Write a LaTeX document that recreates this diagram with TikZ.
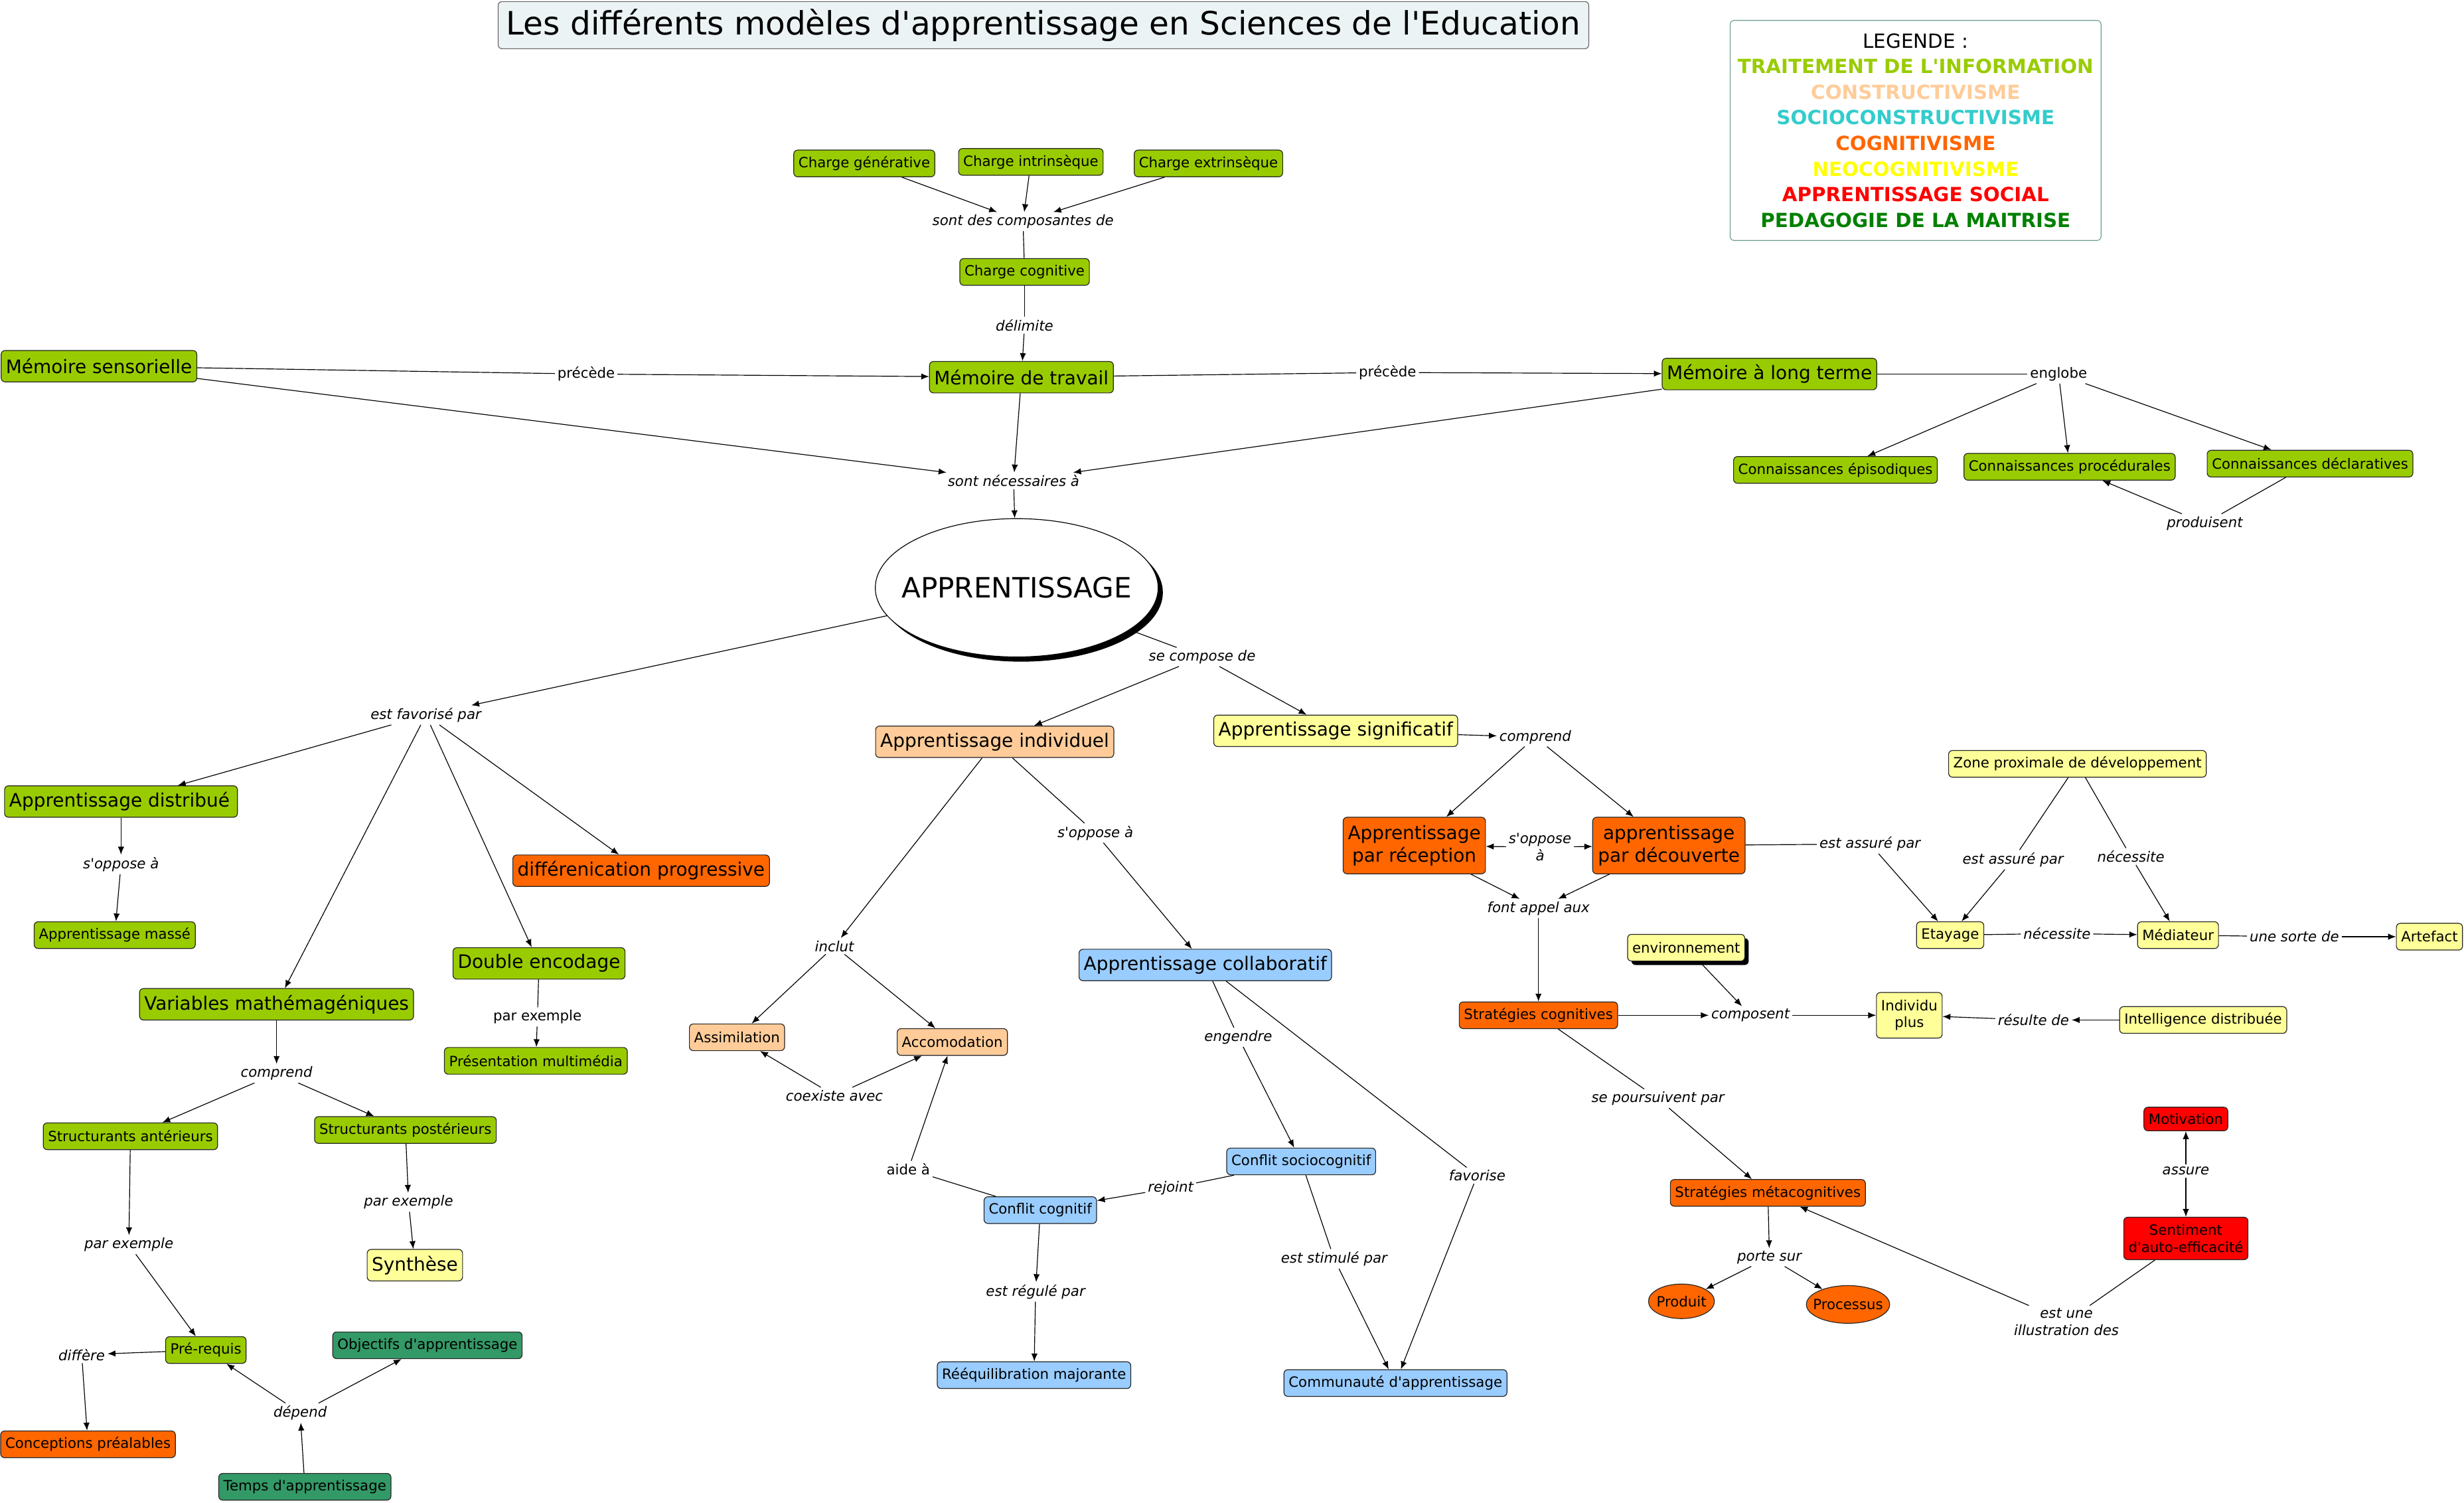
\documentclass[tikz,border=0pt]{standalone}
\usepackage{fontspec}
\setmainfont{DejaVu Sans}[Ligatures=TeXOff]
\usetikzlibrary{arrows.meta,shapes.geometric,shadows}
\definecolor{cgreen}{RGB}{153,204,0}
\definecolor{cdgreen}{RGB}{51,153,102}
\definecolor{corange}{RGB}{255,102,0}
\definecolor{cpeach}{RGB}{255,204,153}
\definecolor{cly}{RGB}{255,255,153}
\definecolor{clb}{RGB}{153,204,255}
\definecolor{cred}{RGB}{255,0,0}
\definecolor{ctitle}{RGB}{235,243,245}
\definecolor{cteal}{RGB}{51,204,204}
\definecolor{cyel}{RGB}{255,255,0}
\definecolor{cmaitr}{RGB}{0,128,0}
\definecolor{clegbord}{RGB}{110,160,150}
\newcommand\mysmall{\fontsize{9}{10.8}\selectfont}
\newcommand\mylarge{\fontsize{11.8}{14.5}\selectfont}
\tikzset{
  box/.style={rounded corners=2.5pt, draw=black!85, line width=0.5pt, inner xsep=3pt, inner ysep=2pt, align=center},
  sm/.style={box, font=\mysmall, minimum height=17pt},
  lg/.style={box, font=\mylarge, minimum height=20pt},
  lab/.style={font=\mysmall\itshape, inner sep=1.5pt, align=center},
  labu/.style={font=\mysmall, inner sep=1.5pt, align=center},
  fg/.style={fill=cgreen}, fdg/.style={fill=cdgreen}, fo/.style={fill=corange},
  fp/.style={fill=cpeach}, fy/.style={fill=cly}, fb/.style={fill=clb}, fr/.style={fill=cred},
  ln/.style={line width=0.5pt, draw=black},
  ar/.style={ln, -{Latex[length=5pt,width=4pt]}},
  oval/.style={ellipse, draw=black!85, line width=0.5pt, fill=corange, font=\mysmall, inner sep=0pt},
}
\begin{document}
\begin{tikzpicture}[x=1pt,y=-1pt]
\useasboundingbox (0,0) rectangle (1568,956);
% title and legend
\node[box, fill=ctitle, draw=black!60, minimum width=694pt, minimum height=30pt, font=\fontsize{20.5}{24}\selectfont] (title) at (664,16) {Les différents modèles d'apprentissage en Sciences de l'Education};
\node[box, draw=clegbord, fill=white, minimum width=236pt, minimum height=140pt, font=\fontsize{12.4}{16.3}\selectfont] (legend) at (1219,83)
 {LEGENDE :\\ \bfseries\color{cgreen}TRAITEMENT DE L'INFORMATION\\ \bfseries\color{cpeach}CONSTRUCTIVISME\\ \bfseries\color{cteal}SOCIOCONSTRUCTIVISME\\ \bfseries\color{corange}COGNITIVISME\\ \bfseries\color{cyel}NEOCOGNITIVISME\\ \bfseries\color{cred}APPRENTISSAGE SOCIAL\\ \bfseries\color{cmaitr}PEDAGOGIE DE LA MAITRISE};
% charge cognitive
\node[sm,fg] (cgen) at (550,104) {Charge générative};
\node[sm,fg] (cint) at (656,103) {Charge intrinsèque};
\node[sm,fg] (cext) at (769,104) {Charge extrinsèque};
\node[lab] (lcomp) at (651,141) {sont des composantes de};
\node[sm,fg] (ccog) at (652,173) {Charge cognitive};
\node[lab] (ldelim) at (652,207) {délimite};
% memoires
\node[lg,fg] (msens) at (63,233) {Mémoire sensorielle};
\node[lg,fg] (mtrav) at (650,240) {Mémoire de travail};
\node[lg,fg] (mlt) at (1126,238) {Mémoire à long terme};
\node[labu] (lprec1) at (373,238) {précède};
\node[labu] (lprec2) at (883,237) {précède};
\node[labu] (lengl) at (1310,238) {englobe};
\node[sm,fg] (cepi) at (1168,299) {Connaissances épisodiques};
\node[sm,fg] (cproc) at (1317,297) {Connaissances procédurales};
\node[sm,fg] (cdecl) at (1470,295) {Connaissances déclaratives};
\node[lab] (lprod) at (1403,333) {produisent};
\node[lab] (lneces) at (645,306) {sont nécessaires à};
% apprentissage
\node[ellipse, draw=black, line width=0.5pt, fill=white, minimum width=180pt, minimum height=88pt, inner sep=0pt, font=\fontsize{17.8}{21}\selectfont, drop shadow={shadow xshift=3pt, shadow yshift=-3pt, fill=black, opacity=1}] (appr) at (647,374) {\makebox[0pt]{APPRENTISSAGE}};
\node[lab] (lcompose) at (765,418) {se compose de};
\node[lab] (lfavor) at (271,455) {est favorisé par};
\node[lg,fp] (aind) at (633,472) {Apprentissage individuel};
\node[lg,fy] (asig) at (850,465) {Apprentissage significatif};
\node[lab] (lcompr1) at (977,469) {comprend};
% left branch
\node[lg,fg] (adist) at (77,510) {Apprentissage distribué\,};
\node[lab] (lopp1) at (77,550) {s'oppose à};
\node[sm,fg] (amasse) at (73,595) {Apprentissage massé};
\node[lg,fo] (dprog) at (408,554) {différenication progressive};
\node[lg,fg] (denc) at (343,613) {Double encodage};
\node[labu] (lpex1) at (342,647) {par exemple};
\node[sm,fg] (pmulti) at (341,675) {Présentation multimédia};
\node[lg,fg] (varm) at (176,639) {Variables mathémagéniques};
\node[lab] (lcompr2) at (176,683) {comprend};
\node[sm,fg] (sant) at (83,723) {Structurants antérieurs};
\node[sm,fg] (spost) at (258,719) {Structurants postérieurs};
\node[lab] (lpex2) at (82,792) {par exemple};
\node[lab] (lpex3) at (260,765) {par exemple};
\node[lg,fy] (synth) at (264,805) {Synthèse};
\node[sm,fg] (prereq) at (131,859) {Pré-requis};
\node[lab] (ldiff) at (52,862) {diffère};
\node[sm,fo] (concep) at (56,919) {Conceptions préalables};
\node[sm,fdg] (objap) at (272,856) {Objectifs d'apprentissage};
\node[lab] (ldep) at (191,899) {dépend};
\node[sm,fdg] (temps) at (194,946) {Temps d'apprentissage};
% individuel / collaboratif
\node[lab] (lincl) at (531,602) {inclut};
\node[sm,fp] (assim) at (469,660) {Assimilation};
\node[sm,fp] (accom) at (606,663) {Accomodation};
\node[lab] (lcoex) at (531,697) {coexiste avec};
\node[lab] (lopp2) at (697,530) {s'oppose à};
\node[lg,fb] (acoll) at (767,614) {Apprentissage collaboratif};
\node[lab] (lengen) at (788,660) {engendre};
\node[lab] (lfavo) at (940,748) {favorise};
\node[sm,fb] (csoc) at (828,739) {Conflit sociocognitif};
\node[lab] (lrej) at (745,756) {rejoint};
\node[sm,fb] (ccogn) at (662,770) {Conflit cognitif};
\node[labu] (laide) at (578,744) {aide à};
\node[lab] (lregul) at (659,822) {est régulé par};
\node[sm,fb] (reeq) at (658,875) {Rééquilibration majorante};
\node[lab] (lstim) at (849,801) {est stimulé par};
\node[sm,fb] (commu) at (888,880) {Communauté d'apprentissage};
% significatif
\node[lg,fo, minimum width=90pt, minimum height=36pt] (arecep) at (900,538) {Apprentissage\\par réception};
\node[lab] (lopp3) at (980,539) {s'oppose\\à};
\node[lg,fo, minimum width=97pt, minimum height=36pt] (adecouv) at (1062,538) {apprentissage\\par découverte};
\node[lab] (lassur1) at (1190,537) {est assuré par};
\node[lab] (lappel) at (979,578) {font appel aux};
\node[sm,fy] (zpd) at (1322,486) {Zone proximale de développement};
\node[lab] (lassur2) at (1281,547) {est assuré par};
\node[lab] (lnec1) at (1356,545) {nécessite};
\node[sm,fy] (etay) at (1241,595) {Etayage};
\node[lab] (lnec2) at (1309,594) {nécessite};
\node[sm,fy] (medi) at (1386,595) {Médiateur};
\node[lab] (lsorte) at (1460,596) {une sorte de};
\node[sm,fy] (artef) at (1546,596) {Artefact};
\node[sm,fy, drop shadow={shadow xshift=2.5pt, shadow yshift=-2.5pt, fill=black, opacity=1}] (envir) at (1073,603) {environnement};
\node[sm,fo] (stcog) at (979,646) {Stratégies cognitives};
\node[lab] (lcompo) at (1114,646) {composent};
\node[sm,fy, minimum height=29pt] (indiv) at (1215,646) {Individu\\plus};
\node[lab] (lresul) at (1294,649) {résulte de};
\node[sm,fy] (intel) at (1402,649) {Intelligence distribuée};
\node[lab] (lpours) at (1055,699) {se poursuivent par};
\node[sm,fo] (stmeta) at (1125,759) {Stratégies métacognitives};
\node[lab] (lporte) at (1126,800) {porte sur};
\node[oval, minimum width=42pt, minimum height=22pt] (produit) at (1070,828) {\makebox[0pt]{Produit}};
\node[oval, minimum width=53pt, minimum height=24pt] (processus) at (1176,830) {\makebox[0pt]{Processus}};
\node[sm,fr, minimum height=15pt] (motiv) at (1391,712) {Motivation};
\node[lab] (lassure) at (1391,745) {assure};
\node[sm,fr, minimum height=27pt] (sentim) at (1391,788) {Sentiment\\d'auto-efficacité};
\node[lab] (lillus) at (1315,841) {est une\\illustration des};
% ---------- connectors ----------
\draw[ar] (cgen) -- (lcomp);
\draw[ar] (cint) -- (lcomp);
\draw[ar] (cext) -- (lcomp);
\draw[ln] (lcomp) -- (ccog);
\draw[ln] (ccog) -- (ldelim);
\draw[ar] (ldelim) -- (mtrav);
\draw[ln] (msens) -- (lprec1);
\draw[ar] (lprec1) -- (mtrav);
\draw[ln] (mtrav) -- (lprec2);
\draw[ar] (lprec2) -- (mlt);
\draw[ar] (msens) -- (lneces);
\draw[ar] (mtrav) -- (lneces);
\draw[ar] (mlt) -- (lneces);
\draw[ar] (lneces) -- (appr);
\draw[ln] (mlt) -- (lengl);
\draw[ar] (lengl) -- (cepi);
\draw[ar] (lengl) -- (cproc);
\draw[ar] (lengl) -- (cdecl);
\draw[ln] (cdecl) -- (lprod);
\draw[ar] (lprod) -- (cproc);
\draw[ar] (appr) -- (lfavor);
\draw[ar] (lfavor) -- (adist);
\draw[ar] (lfavor) -- (varm);
\draw[ar] (lfavor) -- (denc);
\draw[ar] (lfavor) -- (dprog);
\draw[ln] (appr) -- (lcompose);
\draw[ar] (lcompose) -- (aind);
\draw[ar] (lcompose) -- (asig);
\draw[ar] (adist) -- (lopp1);
\draw[ar] (lopp1) -- (amasse);
\draw[ln] (denc) -- (lpex1);
\draw[ar] (lpex1) -- (pmulti);
\draw[ar] (varm) -- (lcompr2);
\draw[ar] (lcompr2) -- (sant);
\draw[ar] (lcompr2) -- (spost);
\draw[ar] (sant) -- (lpex2);
\draw[ar] (lpex2) -- (prereq);
\draw[ar] (spost) -- (lpex3);
\draw[ar] (lpex3) -- (synth);
\draw[ar] (prereq) -- (ldiff);
\draw[ar] (ldiff) -- (concep);
\draw[ar] (temps) -- (ldep);
\draw[ar] (ldep) -- (prereq);
\draw[ar] (ldep) -- (objap);
\draw[ar] (aind) -- (lincl);
\draw[ar] (lincl) -- (assim);
\draw[ar] (lincl) -- (accom);
\draw[ar] (lcoex) -- (assim);
\draw[ar] (lcoex) -- (accom);
\draw[ln] (aind) -- (lopp2);
\draw[ar] (lopp2) -- (acoll);
\draw[ln] (acoll) -- (lengen);
\draw[ar] (lengen) -- (csoc);
\draw[ln] (acoll) -- (lfavo);
\draw[ar] (lfavo) -- (commu);
\draw[ln] (csoc) -- (lrej);
\draw[ar] (lrej) -- (ccogn);
\draw[ln] (ccogn) -- (laide);
\draw[ar] (laide) -- (accom);
\draw[ar] (ccogn) -- (lregul);
\draw[ar] (lregul) -- (reeq);
\draw[ln] (csoc) -- (lstim);
\draw[ar] (lstim) -- (commu);
\draw[ar] (asig) -- (lcompr1);
\draw[ar] (lcompr1) -- (arecep);
\draw[ar] (lcompr1) -- (adecouv);
\draw[ar] (lopp3) -- (arecep);
\draw[ar] (lopp3) -- (adecouv);
\draw[ar] (arecep) -- (lappel);
\draw[ar] (adecouv) -- (lappel);
\draw[ar] (lappel) -- (stcog);
\draw[ln] (adecouv) -- (lassur1);
\draw[ar] (lassur1) -- (etay);
\draw[ln] (zpd) -- (lassur2);
\draw[ar] (lassur2) -- (etay);
\draw[ln] (zpd) -- (lnec1);
\draw[ar] (lnec1) -- (medi);
\draw[ln] (etay) -- (lnec2);
\draw[ar] (lnec2) -- (medi);
\draw[ln] (medi) -- (lsorte);
\draw[ar] (lsorte) -- (artef);
\draw[ar] (envir) -- (lcompo);
\draw[ar] (stcog) -- (lcompo);
\draw[ar] (lcompo) -- (indiv);
\draw[ar] (intel) -- (lresul);
\draw[ar] (lresul) -- (indiv);
\draw[ln] (stcog) -- (lpours);
\draw[ar] (lpours) -- (stmeta);
\draw[ar] (stmeta) -- (lporte);
\draw[ar] (lporte) -- (produit);
\draw[ar] (lporte) -- (processus);
\draw[ln] (sentim) -- (lillus);
\draw[ar] (lillus) -- (stmeta);
\draw[ar] (lassure) -- (motiv);
\draw[ar] (lassure) -- (sentim);
\end{tikzpicture}
\end{document}
